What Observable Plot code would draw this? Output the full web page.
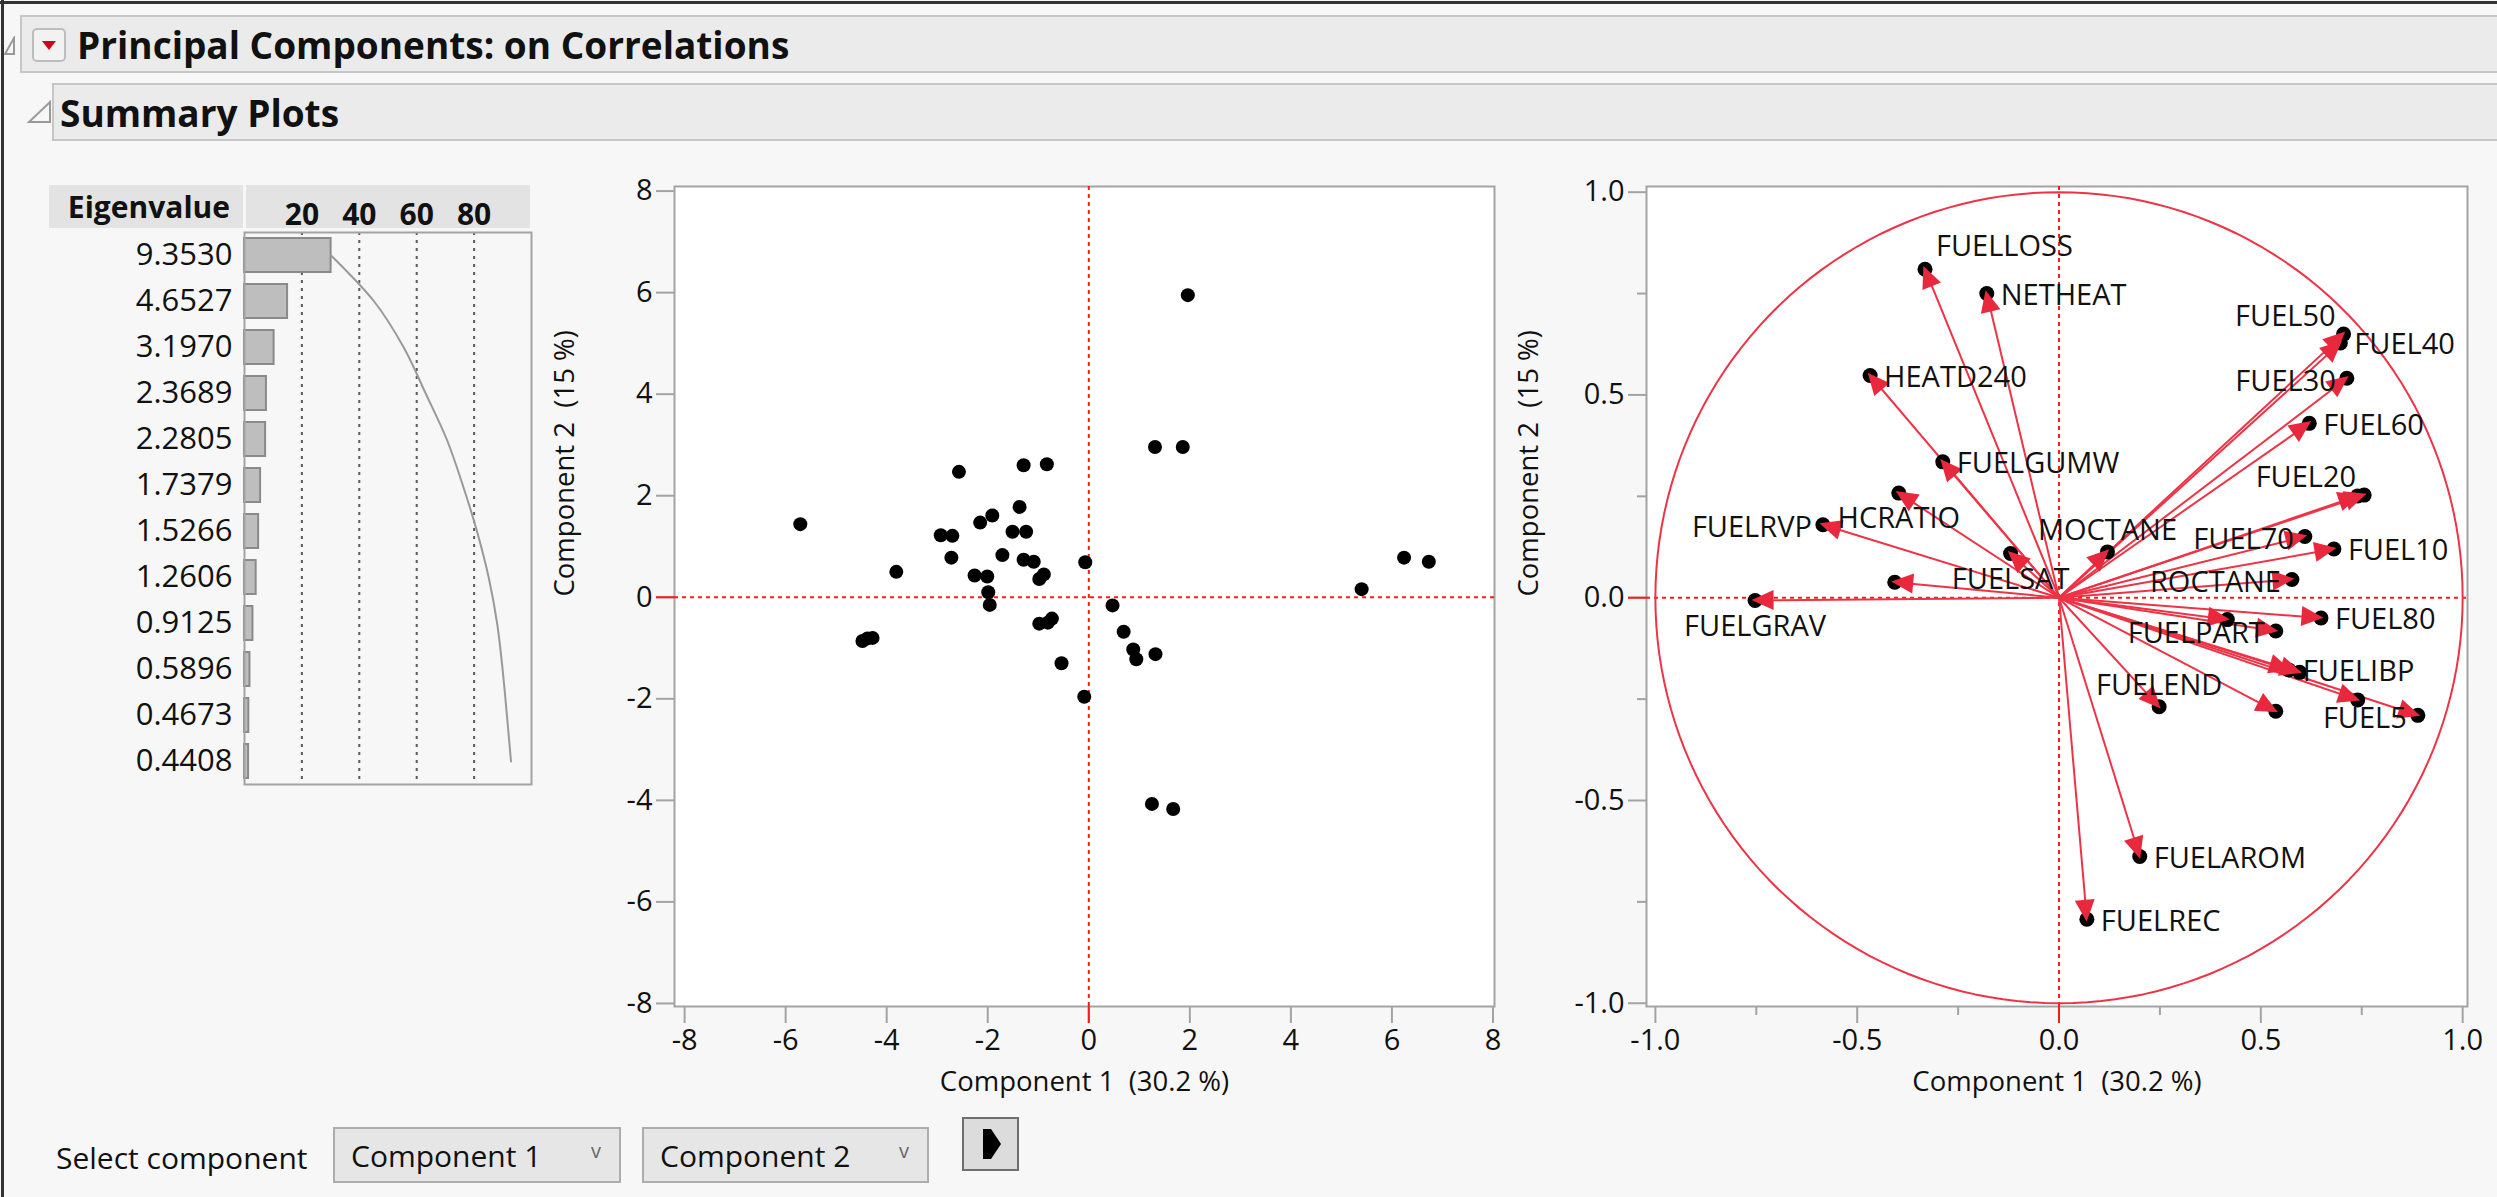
<!DOCTYPE html>
<html><head><meta charset="utf-8">
<script src="https://cdn.jsdelivr.net/npm/d3@7"></script>
<script src="https://cdn.jsdelivr.net/npm/@observablehq/plot@0.6"></script>
<style>
html,body{margin:0;padding:0;background:#f7f7f7;overflow:hidden;}
#root{position:relative;width:2497px;height:1197px;font-family:"Open Sans",sans-serif;color:#111;overflow:hidden;}
.abs{position:absolute;}
.hbar{position:absolute;background:#ebebeb;border:2px solid #c6c6c6;border-right:none;box-sizing:border-box;display:flex;align-items:center;font-weight:bold;font-size:37px;color:#111;}
.drop{position:absolute;background:#e6e6e6;border:2px solid #adadad;box-sizing:border-box;font-size:30px;display:flex;align-items:center;padding-left:16px;}
.drop .chev{position:absolute;right:18px;top:8px;font-size:20px;color:#666;}
svg text{white-space:pre;}
</style></head>
<body><div id="root">
  <div class="abs" style="left:0;top:1px;width:2497px;height:3px;background:#333"></div>
  <div class="abs" style="left:1px;top:0;width:3px;height:1197px;background:#333"></div>
  <svg class="abs" style="left:4px;top:36px" width="12" height="22"><polygon points="10,2 10,18 1,18" fill="none" stroke="#999" stroke-width="2"/></svg>
  <div class="hbar" style="left:20px;top:15px;width:2477px;height:58px;padding-left:55px;">Principal Components: on Correlations</div>
  <div class="abs" style="left:32px;top:28px;width:34px;height:34px;border:2px solid #bdbdbd;border-radius:5px;background:#f2f2f2;box-sizing:border-box;"></div>
  <svg class="abs" style="left:32px;top:28px" width="34" height="34"><polygon points="10,13 24,13 17,22" fill="#d0021b"/></svg>
  <svg class="abs" style="left:26px;top:99px" width="28" height="26"><polygon points="24,3 24,23 3,23" fill="none" stroke="#999" stroke-width="2"/></svg>
  <div class="hbar" style="left:52px;top:83px;width:2445px;height:58px;padding-left:6px;">Summary Plots</div>

  <div class="abs" style="left:49px;top:185px;width:194px;height:43px;background:#e3e3e3;"></div>
  <div class="abs" style="left:246px;top:185px;width:284px;height:43px;background:#e3e3e3;"></div>
  <div class="abs" style="left:49px;top:185px;width:181px;height:43px;line-height:43px;text-align:right;font-weight:bold;font-size:30px;">Eigenvalue</div>
  <div id="eig" class="abs" style="left:0;top:180px;"></div>
  <div id="score" class="abs" style="left:480px;top:150px;"></div>
  <div id="load" class="abs" style="left:1480px;top:150px;"></div>

  <div class="abs" style="left:56px;top:1136px;font-size:30px;line-height:44px;">Select component</div>
  <div class="drop" style="left:333px;top:1127px;width:288px;height:56px;">Component 1<span class="chev">v</span></div>
  <div class="drop" style="left:642px;top:1127px;width:287px;height:56px;">Component 2<span class="chev">v</span></div>
  <div class="abs" style="left:962px;top:1117px;width:57px;height:54px;background:#dcdcdc;border:2px solid #6e6e6e;box-sizing:border-box;"></div>
  <svg class="abs" style="left:962px;top:1117px" width="57" height="54"><polygon points="21,12 29,12 39,27 29,42 21,42" fill="#000"/></svg>
</div>
<script>
// ---------- data ----------
const eigenvalues = [9.3530, 4.6527, 3.1970, 2.3689, 2.2805, 1.7379, 1.5266, 1.2606, 0.9125, 0.5896, 0.4673, 0.4408];
const nVariables = 31;
const percentTicks = [20, 40, 60, 80];

const score1 = [1.96, 1.31, 1.86, -2.57, -1.29, -0.83, -5.71, -1.37, -1.91, -2.15, -2.93, -2.70, -1.51, -1.24, -2.72, -1.71, -3.81, -1.29, -1.09, -0.07, -2.26, -2.01, -0.89, -0.98, -1.99, -1.96, 0.47, 5.40, 6.24, 6.73, -4.48, -4.38, -4.28, -0.73, -0.81, -0.98, 0.69, 0.88, 0.94, 1.32, -0.54, -0.09, 1.25, 1.67];
const score2 = [5.95, 2.96, 2.96, 2.47, 2.60, 2.62, 1.44, 1.78, 1.61, 1.47, 1.22, 1.21, 1.29, 1.29, 0.78, 0.83, 0.50, 0.74, 0.70, 0.69, 0.43, 0.41, 0.45, 0.36, 0.10, -0.15, -0.16, 0.16, 0.78, 0.70, -0.86, -0.81, -0.80, -0.42, -0.50, -0.52, -0.68, -1.03, -1.22, -1.12, -1.30, -1.96, -4.07, -4.17];
const scoreTicks = [-8, -6, -4, -2, 0, 2, 4, 6, 8];

const varNames = ["FUELLOSS", "NETHEAT", "FUEL50", "FUEL40", "FUEL30", "HEATD240", "FUEL60", "FUELGUMW", "FUEL20", "", "HCRATIO", "FUELRVP", "MOCTANE", "FUELSAT", "", "FUEL70", "FUEL10", "ROCTANE", "FUELGRAV", "FUEL80", "", "FUELPART", "FUELIBP", "", "FUELEND", "", "", "FUEL5", "FUELAROM", "FUELREC"];
const loading1 = [-0.332, -0.179, 0.705, 0.697, 0.713, -0.468, 0.620, -0.288, 0.756, 0.740, -0.397, -0.585, 0.120, -0.120, -0.407, 0.609, 0.681, 0.577, -0.753, 0.649, 0.417, 0.537, 0.569, 0.596, 0.248, 0.537, 0.740, 0.889, 0.200, 0.069];
const loading2 = [0.810, 0.750, 0.650, 0.628, 0.541, 0.548, 0.430, 0.335, 0.253, 0.251, 0.258, 0.180, 0.113, 0.109, 0.038, 0.151, 0.120, 0.045, -0.007, -0.050, -0.054, -0.082, -0.178, -0.184, -0.269, -0.280, -0.252, -0.290, -0.638, -0.793];
const labelSide = ["ne", "e", "nw", "e", "w", "e", "e", "e", "nw", "", "s", "w", "n", "s", "", "w", "e", "w", "s", "e", "", "w", "e", "", "n", "", "", "w", "e", "e"];
const loadingTicks = [-1, -0.5, 0, 0.5, 1];
const loadingMinorTicks = [-0.75, -0.25, 0.25, 0.75];

const pc1Label = "Component 1  (30.2 %)";
const pc2Label = "Component 2  (15 %)";

// ---------- styles ----------
const RED = "#ff1a1a", ARROW = "#ef3346", HEAD = "#e8283c", AXIS = "#a3a3a3", TXT = "#111";
const baseStyle = {background: "transparent", fontFamily: "Open Sans", fontSize: "29px", color: TXT, overflow: "visible"};

// ---------- eigenvalue chart ----------
let acc = 0;
const eigRows = eigenvalues.map(v => {
  const pct = v / nVariables * 100; acc += pct;
  return {label: v.toFixed(4), pct, cum: acc};
});
const eig = Plot.plot({
  width: 537, height: 610, marginLeft: 244, marginTop: 52, marginRight: 6, marginBottom: 6,
  style: {...baseStyle, fontSize: "31px"},
  x: {domain: [0, 100], axis: null},
  y: {domain: eigRows.map(d => d.label), padding: 0, axis: null},
  marks: [
    Plot.ruleX(percentTicks, {stroke: "#5a5a5a", strokeWidth: 2, strokeDasharray: "3,5"}),
    Plot.barX(eigRows, {x: "pct", y: "label", fill: "#bebebe", stroke: "#8a8a8a", strokeWidth: 2, insetTop: 6, insetBottom: 6}),
    Plot.line(eigRows, {x: "cum", y: "label", stroke: "#999", strokeWidth: 2, curve: "monotone-y"}),
    Plot.frame({stroke: AXIS, strokeWidth: 2}),
    Plot.axisX({ticks: percentTicks, anchor: "top", label: null, tickSize: 0, tickPadding: 8, fontWeight: "bold", fontSize: 30, tickFormat: d => String(d)}),
    Plot.axisY({anchor: "left", label: null, tickSize: 0, tickPadding: 12})
  ]
});
document.getElementById("eig").append(eig);

// ---------- score plot ----------
const scores = score1.map((v, i) => ({c1: v, c2: score2[i]}));
const fmtInt = d => String(d);
const scorePlot = Plot.plot({
  width: 1034, height: 980, marginLeft: 194, marginTop: 36, marginRight: 20, marginBottom: 124,
  style: baseStyle,
  x: {domain: [-8.2, 8.03], axis: null},
  y: {domain: [-8.06, 8.09], axis: null},
  marks: [
    Plot.frame({fill: "white", stroke: AXIS, strokeWidth: 2}),
    Plot.ruleX([0], {stroke: RED, strokeWidth: 2, strokeDasharray: "4,4"}),
    Plot.ruleY([0], {stroke: RED, strokeWidth: 2, strokeDasharray: "4,4"}),
    Plot.dot(scores, {x: "c1", y: "c2", r: 7, fill: "#000", stroke: "none"}),
    Plot.axisX({ticks: scoreTicks, label: null, tickSize: 17, tickPadding: 6, stroke: AXIS, strokeWidth: 2, tickFormat: fmtInt}),
    Plot.axisX({ticks: [0], label: null, tickSize: 17, stroke: RED, strokeWidth: 2, tickFormat: () => ""}),
    Plot.axisY({ticks: scoreTicks, label: null, tickSize: 18, tickPadding: 4, stroke: AXIS, strokeWidth: 2, tickFormat: fmtInt}),
    Plot.axisY({ticks: [0], label: null, tickSize: 18, stroke: RED, strokeWidth: 2, tickFormat: () => ""}),
    Plot.text([pc1Label], {text: d => d, frameAnchor: "bottom", dy: 84, fontSize: 27.5}),
    Plot.text([pc2Label], {text: d => d, frameAnchor: "left", dx: -109, rotate: -90, fontSize: 27.5})
  ]
});
document.getElementById("score").append(scorePlot);

// ---------- loading plot ----------
const loadings = varNames.map((n, i) => ({name: n, l1: loading1[i], l2: loading2[i], side: labelSide[i]}));
const circle = d3.range(0, 361, 2).map(a => ({x: Math.cos(a * Math.PI / 180), y: Math.sin(a * Math.PI / 180)}));
const fmt1 = d => d.toFixed(1);

function arrowHeads(index, scales) {
  const sx = scales.x, sy = scales.y;
  const g = d3.create("svg:g");
  const x0 = sx(0), y0 = sy(0);
  for (const d of loadings) {
    const ex = sx(d.l1), ey = sy(d.l2);
    const ang = Math.atan2(ey - y0, ex - x0);
    const L = 22, W = 10, c = Math.cos(ang), s = Math.sin(ang);
    const px = ex + 3 * c, py = ey + 3 * s;
    const bx = px - L * c, by = py - L * s;
    const pts = [[px, py], [bx - W * s, by + W * c], [bx + W * s, by - W * c]];
    g.append("polygon").attr("points", pts.map(p => p.join(",")).join(" ")).attr("fill", HEAD);
  }
  return g.node();
}
const sideOpts = {
  e: {dx: 14, dy: 2, textAnchor: "start"},
  w: {dx: -11, dy: 3, textAnchor: "end"},
  n: {dx: 0, dy: -21, textAnchor: "middle"},
  s: {dx: 0, dy: 26, textAnchor: "middle"},
  ne: {dx: 11, dy: -23, textAnchor: "start"},
  nw: {dx: -8, dy: -17, textAnchor: "end"}
};
const labelMarks = Object.entries(sideOpts).map(([side, o]) =>
  Plot.text(loadings, {filter: d => d.side === side, x: "l1", y: "l2", text: "name", ...o, fill: TXT}));

const loadPlot = Plot.plot({
  width: 1017, height: 980, marginLeft: 166, marginTop: 36, marginRight: 30, marginBottom: 124,
  style: baseStyle,
  x: {domain: [-1.022, 1.012], axis: null},
  y: {domain: [-1.008, 1.014], axis: null},
  marks: [
    Plot.frame({fill: "white", stroke: AXIS, strokeWidth: 2}),
    Plot.ruleX([0], {stroke: RED, strokeWidth: 2, strokeDasharray: "4,4"}),
    Plot.ruleY([0], {stroke: RED, strokeWidth: 2, strokeDasharray: "4,4"}),
    Plot.line(circle, {x: "x", y: "y", stroke: ARROW, strokeWidth: 2}),
    Plot.link(loadings, {x1: 0, y1: 0, x2: "l1", y2: "l2", stroke: ARROW, strokeWidth: 2}),
    Plot.dot(loadings, {x: "l1", y: "l2", r: 7.5, fill: "#000", stroke: "none"}),
    arrowHeads,
    ...labelMarks,
    Plot.axisX({ticks: loadingTicks, label: null, tickSize: 17, tickPadding: 6, stroke: AXIS, strokeWidth: 2, tickFormat: fmt1}),
    Plot.axisX({ticks: loadingMinorTicks, label: null, tickSize: 9, stroke: AXIS, strokeWidth: 2, tickFormat: () => ""}),
    Plot.axisX({ticks: [0], label: null, tickSize: 17, stroke: RED, strokeWidth: 2, tickFormat: () => ""}),
    Plot.axisY({ticks: loadingTicks, label: null, tickSize: 18, tickPadding: 4, stroke: AXIS, strokeWidth: 2, tickFormat: fmt1}),
    Plot.axisY({ticks: loadingMinorTicks, label: null, tickSize: 9, stroke: AXIS, strokeWidth: 2, tickFormat: () => ""}),
    Plot.axisY({ticks: [0], label: null, tickSize: 18, stroke: RED, strokeWidth: 2, tickFormat: () => ""}),
    Plot.text([pc1Label], {text: d => d, frameAnchor: "bottom", dy: 84, fontSize: 27.5}),
    Plot.text([pc2Label], {text: d => d, frameAnchor: "left", dx: -117, rotate: -90, fontSize: 27.5})
  ]
});
document.getElementById("load").append(loadPlot);
</script>
</body></html>
